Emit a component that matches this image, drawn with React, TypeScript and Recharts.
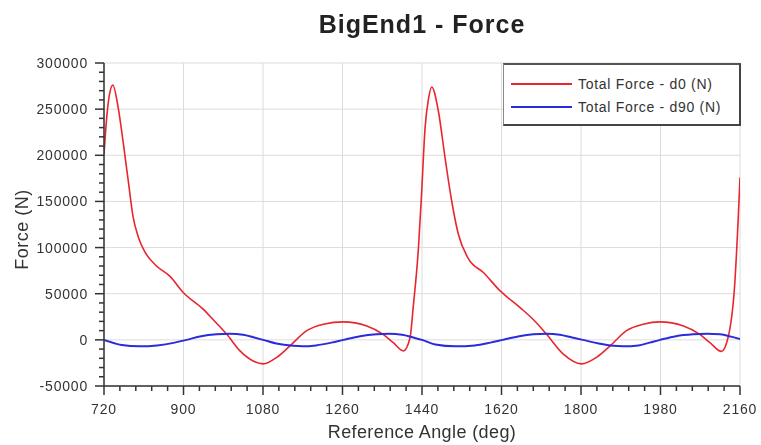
import React from "react";
import { LineChart, Line, XAxis, YAxis, CartesianGrid, Legend } from "recharts";

// 축 눈금
const xMajorTicks = [720, 900, 1080, 1260, 1440, 1620, 1800, 1980, 2160];
const yMajorTicks = [-50000, 0, 50000, 100000, 150000, 200000, 250000, 300000];
const xMinorStep = 36;
const yMinorStep = 10000;

// Total Force - d0 (N)
const d0Angles = [
    720, 726, 732, 740, 752, 764, 775, 786, 798, 813, 839, 869, 900, 945, 967,
    998, 1028, 1058, 1081, 1111, 1141, 1179, 1217, 1262, 1315, 1352, 1375, 1398,
    1413, 1420, 1432, 1439, 1447, 1455, 1462, 1477, 1492, 1507, 1522, 1545, 1579,
    1617, 1662, 1692, 1722, 1760, 1801, 1835, 1866, 1903, 1941, 1979, 2032, 2069,
    2092, 2118, 2133, 2148, 2156, 2160,
];
const d0Force = [
    201000, 240000, 265000, 276000, 252000, 212000, 172000, 133000, 111000, 95000,
    80000, 69000, 51000, 33000, 22000, 6000, -12000, -23000, -26000, -19000,
    -6500, 10000, 17000, 19500, 15000, 6000, -3000, -12000, 2500, 35000, 100000,
    158000, 230000, 262000, 274000, 248000, 198000, 151000, 115000, 88000, 73000,
    53000, 35000, 22000, 6000, -15500, -26000, -19000, -6500, 10000, 17000, 19500,
    15000, 6000, -3000, -12500, 2500, 60000, 132000, 176000,
];

// Total Force - d90 (N)
const d90Angles = [
    720, 760, 800, 840, 880, 907, 940, 975, 1005, 1035, 1060, 1080, 1110, 1148,
    1170, 1200, 1235, 1262, 1300, 1337, 1365, 1395, 1420, 1440, 1470, 1515, 1560,
    1595, 1623, 1660, 1692, 1722, 1752, 1780, 1804, 1840, 1873, 1895, 1930, 1955,
    1979, 2015, 2054, 2085, 2115, 2140, 2160,
];
const d90Force = [
    0, -5500, -7000, -6000, -3000, 0, 4000, 6000, 6500, 5500, 2500, 0, -4000,
    -6500, -7000, -6000, -3000, 0, 4000, 6000, 6500, 5500, 2500, 0, -5000, -7000,
    -6000, -3000, 0, 4000, 6000, 6500, 5500, 2500, 0, -4000, -6500, -7000, -6000,
    -3000, 0, 4000, 6000, 6500, 6000, 3500, 1000,
];

const d0Data = d0Angles.map((angle, i) => ({ angle, force: d0Force[i] }));
const d90Data = d90Angles.map((angle, i) => ({ angle, force: d90Force[i] }));

const xMin = xMajorTicks[0];
const xMax = xMajorTicks[xMajorTicks.length - 1];
const yMin = yMajorTicks[0];
const yMax = yMajorTicks[yMajorTicks.length - 1];

const xTicks: number[] = [];
for (let v = xMin; v <= xMax; v += xMinorStep) xTicks.push(v);
const yTicks: number[] = [];
for (let v = yMin; v <= yMax; v += yMinorStep) yTicks.push(v);

const FONT = "'Liberation Sans', Arial, sans-serif";
const RED = "#e8262e";
const BLUE = "#2b2bdc";

const XTick = (props: any) => {
    const { x, y, payload } = props;
    const major = xMajorTicks.includes(payload.value);
    return (
        <g>
            <line x1={x} x2={x} y1={y} y2={y + (major ? 9 : 5)} stroke="#333" strokeWidth={1.5} />
            {major && (
                <text
                    x={x}
                    y={y + 28}
                    textAnchor="middle"
                    fontSize={14}
                    letterSpacing={0.8}
                    fill="#333"
                    fontFamily={FONT}
                >
                    {payload.value}
                </text>
            )}
        </g>
    );
};

const YTick = (props: any) => {
    const { x, y, payload } = props;
    const major = yMajorTicks.includes(payload.value);
    return (
        <g>
            <line x1={x - (major ? 9 : 5)} x2={x} y1={y} y2={y} stroke="#333" strokeWidth={1.5} />
            {major && (
                <text
                    x={x - 16}
                    y={y}
                    textAnchor="end"
                    dominantBaseline="central"
                    fontSize={14}
                    letterSpacing={0.8}
                    fill="#333"
                    fontFamily={FONT}
                >
                    {payload.value}
                </text>
            )}
        </g>
    );
};

const LegendBox = (props: any) => {
    const { payload } = props;
    return (
        <div
            style={{
                background: "#fff",
                borderTop: "2px solid #555",
                borderLeft: "1px solid #888",
                borderRight: "2px solid #444",
                borderBottom: "2px solid #444",
                height: 52,
                width: 235,
                boxSizing: "content-box",
                fontFamily: FONT,
                fontSize: 14,
                letterSpacing: 0.7,
                color: "#333",
                paddingTop: 7,
            }}
        >
            {(payload || []).map((entry: any) => (
                <div
                    key={entry.value}
                    style={{ display: "flex", alignItems: "center", height: 23 }}
                >
                    <div
                        style={{
                            width: 61,
                            height: 2,
                            marginLeft: 7,
                            marginRight: 6,
                            background: entry.color,
                        }}
                    />
                    <span>{entry.value}</span>
                </div>
            ))}
        </div>
    );
};

const App = () => {
    return (
        <div style={{ position: "fixed", left: 0, top: 0, width: 761, height: 445, background: "#fff" }}>
            <div
                style={{
                    position: "absolute",
                    left: 0,
                    top: 12,
                    width: 844,
                    textAlign: "center",
                    fontFamily: FONT,
                    fontWeight: "bold",
                    fontSize: 25,
                    lineHeight: "25px",
                    letterSpacing: 1,
                    color: "#222",
                }}
            >
                BigEnd1 - Force
            </div>
            <LineChart
                width={761}
                height={445}
                margin={{ top: 63, right: 21, bottom: 0, left: 0 }}
            >
                <CartesianGrid
                    stroke="#dcdcdc"
                    horizontalValues={yMajorTicks}
                    verticalValues={xMajorTicks}
                />
                <XAxis
                    dataKey="angle"
                    type="number"
                    domain={[xMin, xMax]}
                    ticks={xTicks}
                    interval={0}
                    height={59}
                    tickSize={0}
                    tickMargin={0}
                    tick={<XTick />}
                    axisLine={{ stroke: "#333", strokeWidth: 1.5 }}
                    allowDataOverflow
                    label={{
                        content: ({ viewBox }: any) => (
                            <text
                                x={viewBox.x + viewBox.width / 2}
                                y={viewBox.y + 46}
                                textAnchor="middle"
                                dominantBaseline="central"
                                fontSize={18}
                                letterSpacing={0.4}
                                fill="#333"
                                fontFamily={FONT}
                            >
                                Reference Angle (deg)
                            </text>
                        ),
                    }}
                />
                <XAxis
                    xAxisId="top"
                    orientation="top"
                    type="number"
                    domain={[xMin, xMax]}
                    height={0}
                    tick={false}
                    tickLine={false}
                    axisLine={{ stroke: "#444", strokeWidth: 2.5 }}
                />
                <YAxis
                    type="number"
                    domain={[yMin, yMax]}
                    ticks={yTicks}
                    interval={0}
                    width={104}
                    tickSize={0}
                    tickMargin={0}
                    tick={<YTick />}
                    axisLine={{ stroke: "#333", strokeWidth: 1.5 }}
                    allowDataOverflow
                    label={{
                        content: ({ viewBox }: any) => {
                            const cx = viewBox.x + 22;
                            const cy = viewBox.y + viewBox.height / 2 + 5;
                            return (
                                <text
                                    x={cx}
                                    y={cy}
                                    transform={`rotate(-90, ${cx}, ${cy})`}
                                    textAnchor="middle"
                                    dominantBaseline="central"
                                    fontSize={18}
                                    letterSpacing={0.5}
                                    fill="#333"
                                    fontFamily={FONT}
                                >
                                    Force (N)
                                </text>
                            );
                        },
                    }}
                />
                <YAxis
                    yAxisId="right"
                    orientation="right"
                    type="number"
                    domain={[yMin, yMax]}
                    width={0}
                    tick={false}
                    tickLine={false}
                    axisLine={{ stroke: "#444", strokeWidth: 2 }}
                />
                <Legend
                    layout="horizontal"
                    verticalAlign="middle"
                    align="center"
                    content={<LegendBox />}
                    wrapperStyle={{ left: 503, top: 63, width: 238, bottom: "auto" }}
                />
                <Line
                    data={d0Data}
                    dataKey="force"
                    name="Total Force - d0 (N)"
                    type="monotone"
                    stroke={RED}
                    strokeWidth={1.6}
                    dot={false}
                    isAnimationActive={false}
                />
                <Line
                    data={d90Data}
                    dataKey="force"
                    name="Total Force - d90 (N)"
                    type="monotone"
                    stroke={BLUE}
                    strokeWidth={2}
                    dot={false}
                    isAnimationActive={false}
                />
            </LineChart>
        </div>
    );
};

export default App;
